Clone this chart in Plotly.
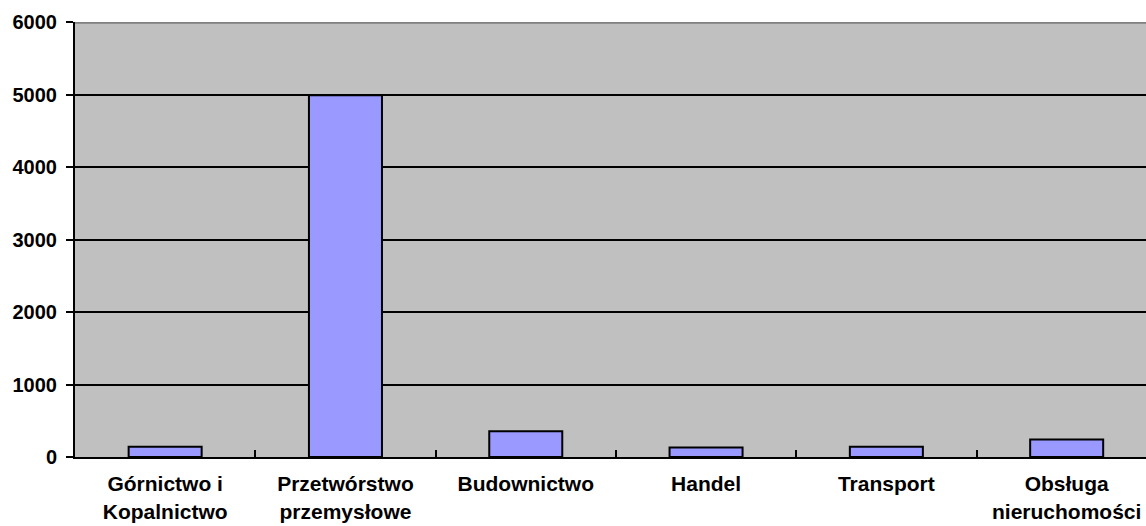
import plotly.graph_objects as go

categories = ["Górnictwo i<br>Kopalnictwo", "Przetwórstwo<br>przemysłowe", "Budownictwo",
              "Handel", "Transport", "Obsługa<br>nieruchomości"]
values = [140, 4990, 355, 130, 140, 240]
y_ticks = [0, 1000, 2000, 3000, 4000, 5000, 6000]

fig = go.Figure()
fig.add_trace(go.Bar(
    x=categories, y=values,
    marker=dict(color="#9999FF", line=dict(color="black", width=2)),
))

fig.update_layout(
    width=1146, height=526,
    margin=dict(l=75, r=0, t=22, b=69),
    paper_bgcolor="white", plot_bgcolor="#C0C0C0",
    bargap=0.595, showlegend=False,
    font=dict(family="Arial, Liberation Sans, sans-serif", color="black"),
    xaxis=dict(
        type="category", range=[-0.5, 5.44], automargin=False,
        showline=True, linecolor="black", linewidth=2,
        ticks="inside", tickson="boundaries", ticklen=7, tickwidth=2, tickcolor="black",
        tickfont=dict(size=21, family="Arial, Liberation Sans, sans-serif", color="black", weight="bold"),
        ticklabelstandoff=7, showgrid=False,
    ),
    yaxis=dict(
        range=[0, 6000], tickvals=y_ticks, ticktext=[str(v) for v in y_ticks], automargin=False,
        showline=True, linecolor="black", linewidth=2,
        ticks="outside", ticklen=7, tickwidth=2, tickcolor="black",
        tickfont=dict(size=20, family="Arial, Liberation Sans, sans-serif", color="black", weight="bold"),
        ticklabelstandoff=5,
        showgrid=True, gridcolor="black", gridwidth=2, zeroline=False,
    ),
    shapes=[dict(type="line", xref="paper", yref="y", x0=0, x1=1, y0=6000, y1=6000,
                 line=dict(color="#808080", width=3.5))],
)

fig.write_html("out.html")
